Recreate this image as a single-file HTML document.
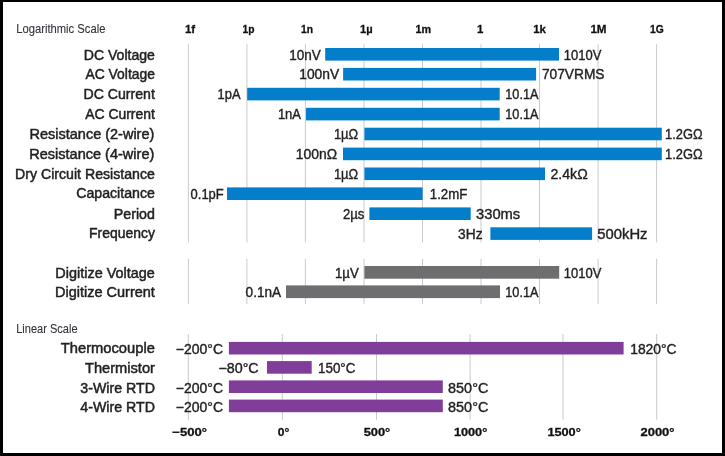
<!DOCTYPE html>
<html lang="en"><head><meta charset="utf-8"><title>Measurement ranges</title>
<style>
html,body{margin:0;padding:0;background:#fff;}
body{width:725px;height:456px;overflow:hidden;}
#frame{position:absolute;left:0;top:0;width:719px;height:451px;border-style:solid;border-color:#000;border-width:2px 3px 3px 3px;}
svg{position:absolute;left:0;top:0;display:block;}
text{font-family:"Liberation Sans",sans-serif;fill:#231f20;}
.n{font-size:14.7px;stroke:#231f20;stroke-width:0.5px;}
.v{font-size:14.2px;stroke:#231f20;stroke-width:0.4px;}
.s{font-size:13.4px;fill:#33363d;stroke:#33363d;stroke-width:0.12px;}
.h{font-size:11.4px;font-weight:bold;fill:#111;stroke:#111;stroke-width:0.3px;}
line{stroke:#c3c4c7;stroke-width:0.9;}
</style></head><body>
<svg width="725" height="456" viewBox="0 0 725 456">
<line x1="188.4" x2="188.4" y1="44" y2="242.3"/>
<line x1="188.4" x2="188.4" y1="258.7" y2="304"/>
<line x1="246.9" x2="246.9" y1="44" y2="242.3"/>
<line x1="246.9" x2="246.9" y1="258.7" y2="304"/>
<line x1="305.4" x2="305.4" y1="44" y2="242.3"/>
<line x1="305.4" x2="305.4" y1="258.7" y2="304"/>
<line x1="364.0" x2="364.0" y1="44" y2="242.3"/>
<line x1="364.0" x2="364.0" y1="258.7" y2="304"/>
<line x1="422.5" x2="422.5" y1="44" y2="242.3"/>
<line x1="422.5" x2="422.5" y1="258.7" y2="304"/>
<line x1="481.0" x2="481.0" y1="44" y2="242.3"/>
<line x1="481.0" x2="481.0" y1="258.7" y2="304"/>
<line x1="539.5" x2="539.5" y1="44" y2="242.3"/>
<line x1="539.5" x2="539.5" y1="258.7" y2="304"/>
<line x1="598.1" x2="598.1" y1="44" y2="242.3"/>
<line x1="598.1" x2="598.1" y1="258.7" y2="304"/>
<line x1="656.6" x2="656.6" y1="44" y2="242.3"/>
<line x1="656.6" x2="656.6" y1="258.7" y2="304"/>
<line x1="188.3" x2="188.3" y1="334" y2="419.7"/>
<line x1="282.3" x2="282.3" y1="334" y2="419.7"/>
<line x1="376.5" x2="376.5" y1="334" y2="419.7"/>
<line x1="470.1" x2="470.1" y1="334" y2="419.7"/>
<line x1="563.0" x2="563.0" y1="334" y2="419.7"/>
<line x1="656.7" x2="656.7" y1="334" y2="419.7"/>
<rect x="325.2" y="48.0" width="233.8" height="12.6" fill="#047dcb"/>
<text class="n" x="83.8" y="59.5" textLength="71.1" lengthAdjust="spacingAndGlyphs">DC Voltage</text>
<text class="v" x="289.2" y="59.5" textLength="31.6" lengthAdjust="spacingAndGlyphs">10nV</text>
<text class="v" x="563.8" y="59.5" textLength="37.6" lengthAdjust="spacingAndGlyphs">1010V</text>
<rect x="343.1" y="67.9" width="193.0" height="12.6" fill="#047dcb"/>
<text class="n" x="85.5" y="79.3" textLength="69.4" lengthAdjust="spacingAndGlyphs">AC Voltage</text>
<text class="v" x="299.2" y="79.4" textLength="40.0" lengthAdjust="spacingAndGlyphs">100nV</text>
<text class="v" x="541.9" y="79.4" textLength="62.6" lengthAdjust="spacingAndGlyphs">707VRMS</text>
<rect x="247.2" y="87.8" width="252.5" height="12.6" fill="#047dcb"/>
<text class="n" x="83.5" y="99.1" textLength="71.4" lengthAdjust="spacingAndGlyphs">DC Current</text>
<text class="v" x="217.6" y="99.3" textLength="22.9" lengthAdjust="spacingAndGlyphs">1pA</text>
<text class="v" x="505.3" y="99.3" textLength="33.1" lengthAdjust="spacingAndGlyphs">10.1A</text>
<rect x="306.0" y="107.8" width="193.7" height="12.6" fill="#047dcb"/>
<text class="n" x="85.2" y="118.6" textLength="69.7" lengthAdjust="spacingAndGlyphs">AC Current</text>
<text class="v" x="277.9" y="119.3" textLength="23.1" lengthAdjust="spacingAndGlyphs">1nA</text>
<text class="v" x="505.3" y="119.3" textLength="33.1" lengthAdjust="spacingAndGlyphs">10.1A</text>
<rect x="364.4" y="127.7" width="297.4" height="12.6" fill="#047dcb"/>
<text class="n" x="29.6" y="139.4" textLength="124.7" lengthAdjust="spacingAndGlyphs">Resistance (2-wire)</text>
<text class="v" x="333.9" y="139.2" textLength="24.3" lengthAdjust="spacingAndGlyphs">1µΩ</text>
<text class="v" x="665.0" y="139.2" textLength="37.5" lengthAdjust="spacingAndGlyphs">1.2GΩ</text>
<rect x="343.0" y="147.6" width="318.8" height="12.6" fill="#047dcb"/>
<text class="n" x="29.3" y="159.3" textLength="125.0" lengthAdjust="spacingAndGlyphs">Resistance (4-wire)</text>
<text class="v" x="295.8" y="159.1" textLength="41.3" lengthAdjust="spacingAndGlyphs">100nΩ</text>
<text class="v" x="665.0" y="159.1" textLength="37.5" lengthAdjust="spacingAndGlyphs">1.2GΩ</text>
<rect x="364.4" y="167.5" width="180.6" height="12.6" fill="#047dcb"/>
<text class="n" x="15.1" y="178.7" textLength="139.8" lengthAdjust="spacingAndGlyphs">Dry Circuit Resistance</text>
<text class="v" x="333.9" y="179.0" textLength="24.3" lengthAdjust="spacingAndGlyphs">1µΩ</text>
<text class="v" x="550.5" y="179.0" textLength="37.2" lengthAdjust="spacingAndGlyphs">2.4kΩ</text>
<rect x="227.0" y="187.4" width="195.6" height="12.6" fill="#047dcb"/>
<text class="n" x="76.2" y="198.4" textLength="78.7" lengthAdjust="spacingAndGlyphs">Capacitance</text>
<text class="v" x="190.6" y="198.9" textLength="33.1" lengthAdjust="spacingAndGlyphs">0.1pF</text>
<text class="v" x="429.8" y="198.9" textLength="37.6" lengthAdjust="spacingAndGlyphs">1.2mF</text>
<rect x="369.4" y="207.4" width="101.3" height="12.6" fill="#047dcb"/>
<text class="n" x="113.8" y="218.5" textLength="41.1" lengthAdjust="spacingAndGlyphs">Period</text>
<text class="v" x="342.9" y="218.9" textLength="21.5" lengthAdjust="spacingAndGlyphs">2µs</text>
<text class="v" x="476.0" y="218.9" textLength="44.2" lengthAdjust="spacingAndGlyphs">330ms</text>
<rect x="490.4" y="227.3" width="101.7" height="12.6" fill="#047dcb"/>
<text class="n" x="89.1" y="237.5" textLength="65.8" lengthAdjust="spacingAndGlyphs">Frequency</text>
<text class="v" x="458.1" y="238.8" textLength="24.4" lengthAdjust="spacingAndGlyphs">3Hz</text>
<text class="v" x="597.3" y="238.8" textLength="50.2" lengthAdjust="spacingAndGlyphs">500kHz</text>
<rect x="364.4" y="266.0" width="194.8" height="12.7" fill="#6e6e70"/>
<text class="n" x="55.3" y="277.7" textLength="99.6" lengthAdjust="spacingAndGlyphs">Digitize Voltage</text>
<text class="v" x="335.0" y="278.0" textLength="23.8" lengthAdjust="spacingAndGlyphs">1µV</text>
<text class="v" x="563.8" y="278.0" textLength="37.6" lengthAdjust="spacingAndGlyphs">1010V</text>
<rect x="286.0" y="285.4" width="214.0" height="12.7" fill="#6e6e70"/>
<text class="n" x="55.0" y="296.9" textLength="99.9" lengthAdjust="spacingAndGlyphs">Digitize Current</text>
<text class="v" x="245.6" y="297.2" textLength="35.4" lengthAdjust="spacingAndGlyphs">0.1nA</text>
<text class="v" x="505.3" y="297.2" textLength="33.1" lengthAdjust="spacingAndGlyphs">10.1A</text>
<rect x="228.9" y="341.9" width="394.7" height="12.6" fill="#803d9a"/>
<text class="n" x="60.8" y="353.2" textLength="94.1" lengthAdjust="spacingAndGlyphs">Thermocouple</text>
<text class="v" x="175.8" y="354.2" textLength="47.2" lengthAdjust="spacingAndGlyphs">−200°C</text>
<text class="v" x="630.2" y="354.2" textLength="46.4" lengthAdjust="spacingAndGlyphs">1820°C</text>
<rect x="267.0" y="361.1" width="44.7" height="12.6" fill="#803d9a"/>
<text class="n" x="85.0" y="372.9" textLength="69.9" lengthAdjust="spacingAndGlyphs">Thermistor</text>
<text class="v" x="218.4" y="373.2" textLength="40.3" lengthAdjust="spacingAndGlyphs">−80°C</text>
<text class="v" x="318.0" y="373.2" textLength="37.4" lengthAdjust="spacingAndGlyphs">150°C</text>
<rect x="228.9" y="380.4" width="213.9" height="12.6" fill="#803d9a"/>
<text class="n" x="80.3" y="393.2" textLength="74.6" lengthAdjust="spacingAndGlyphs">3-Wire RTD</text>
<text class="v" x="175.8" y="392.6" textLength="47.2" lengthAdjust="spacingAndGlyphs">−200°C</text>
<text class="v" x="448.1" y="392.6" textLength="40.2" lengthAdjust="spacingAndGlyphs">850°C</text>
<rect x="228.9" y="399.6" width="213.9" height="12.6" fill="#803d9a"/>
<text class="n" x="80.3" y="412.1" textLength="74.6" lengthAdjust="spacingAndGlyphs">4-Wire RTD</text>
<text class="v" x="175.8" y="411.9" textLength="47.2" lengthAdjust="spacingAndGlyphs">−200°C</text>
<text class="v" x="448.1" y="411.9" textLength="40.2" lengthAdjust="spacingAndGlyphs">850°C</text>
<text class="s" x="16.2" y="33.0" textLength="89.2" lengthAdjust="spacingAndGlyphs">Logarithmic Scale</text>
<text class="s" x="16.2" y="332.8" textLength="61.4" lengthAdjust="spacingAndGlyphs">Linear Scale</text>
<text class="h" x="184.9" y="32.8" textLength="10.2" lengthAdjust="spacingAndGlyphs">1f</text>
<text class="h" x="242.5" y="32.8" textLength="12.0" lengthAdjust="spacingAndGlyphs">1p</text>
<text class="h" x="301.1" y="32.8" textLength="12.0" lengthAdjust="spacingAndGlyphs">1n</text>
<text class="h" x="360.1" y="32.8" textLength="12.6" lengthAdjust="spacingAndGlyphs">1µ</text>
<text class="h" x="415.5" y="32.8" textLength="15.5" lengthAdjust="spacingAndGlyphs">1m</text>
<text class="h" x="480.2" y="32.8" text-anchor="middle">1</text>
<text class="h" x="533.2" y="32.8" textLength="12.7" lengthAdjust="spacingAndGlyphs">1k</text>
<text class="h" x="590.4" y="32.8" textLength="16.2" lengthAdjust="spacingAndGlyphs">1M</text>
<text class="h" x="650.0" y="32.8" textLength="13.7" lengthAdjust="spacingAndGlyphs">1G</text>
<text class="h" x="172.3" y="435.8" textLength="34.7" lengthAdjust="spacingAndGlyphs">−500°</text>
<text class="h" x="277.7" y="435.8" textLength="11.5" lengthAdjust="spacingAndGlyphs">0°</text>
<text class="h" x="363.7" y="435.8" textLength="26.5" lengthAdjust="spacingAndGlyphs">500°</text>
<text class="h" x="453.9" y="435.8" textLength="33.4" lengthAdjust="spacingAndGlyphs">1000°</text>
<text class="h" x="547.4" y="435.8" textLength="33.4" lengthAdjust="spacingAndGlyphs">1500°</text>
<text class="h" x="640.5" y="435.8" textLength="34.0" lengthAdjust="spacingAndGlyphs">2000°</text>
</svg>
<div id="frame"></div>
</body></html>
